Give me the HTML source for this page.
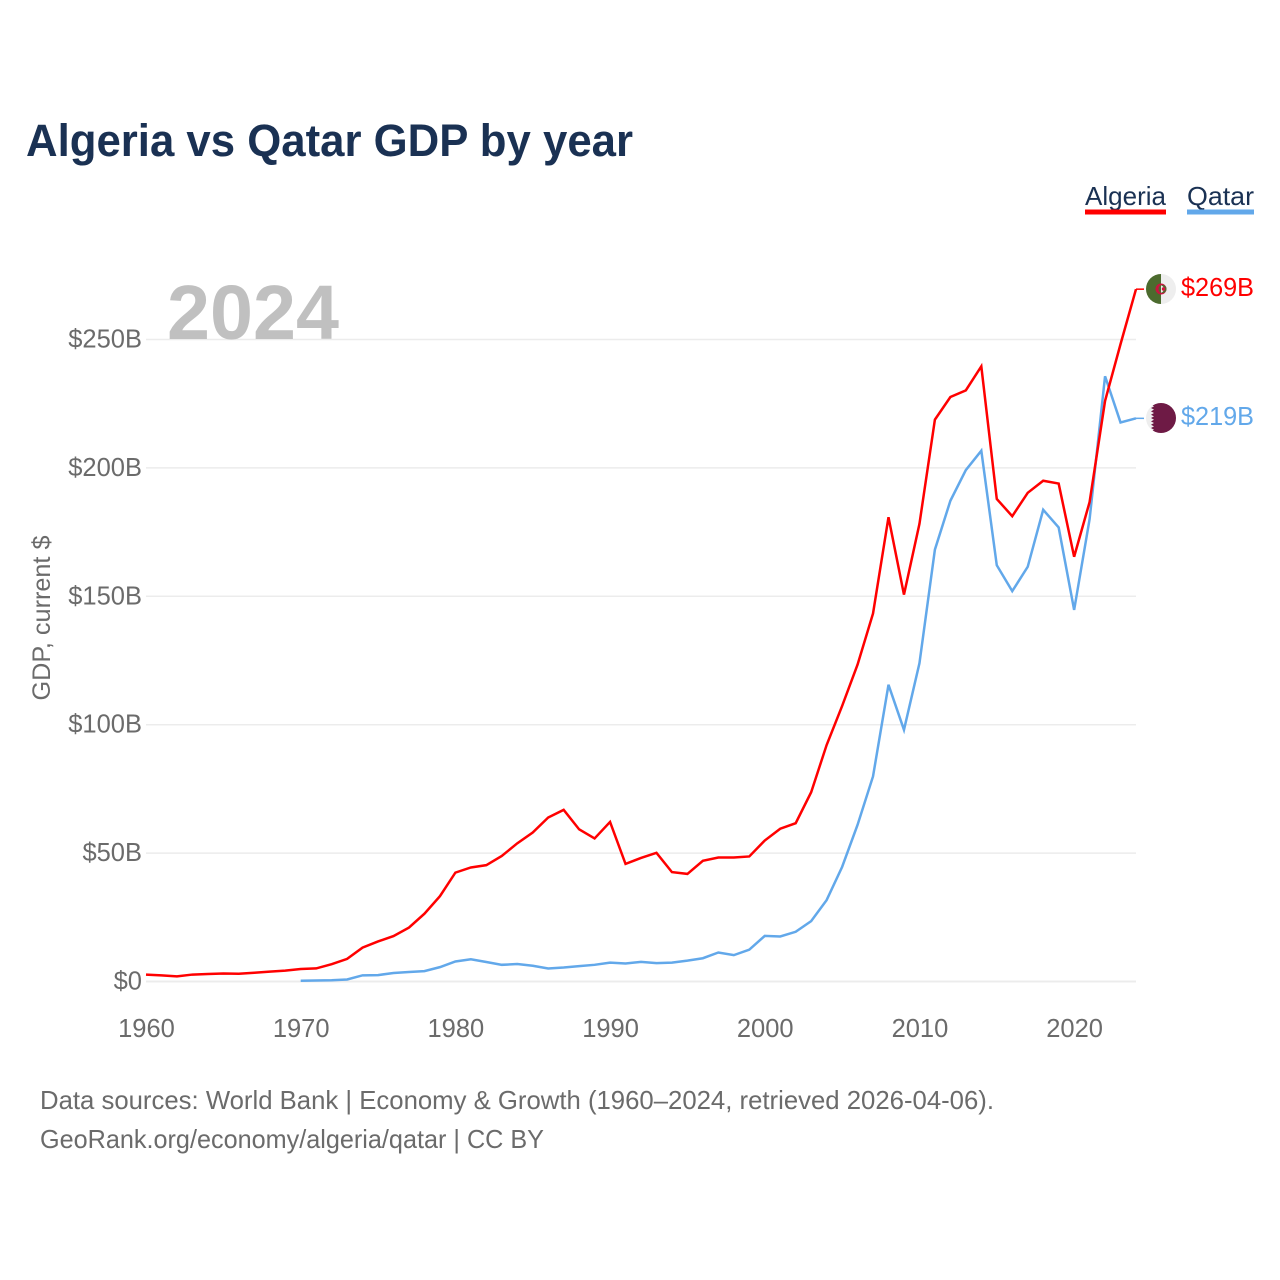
<!DOCTYPE html>
<html lang="en">
<head>
<meta charset="utf-8">
<title>Algeria vs Qatar GDP by year</title>
<style>
html,body{margin:0;padding:0;background:#fff;}
svg{display:block;}
text{font-family:"Liberation Sans",sans-serif;}
</style>
</head>
<body>
<svg id="chart" width="1280" height="1280" viewBox="0 0 1280 1280" xmlns="http://www.w3.org/2000/svg">
  <defs>
    <clipPath id="flag-clip-a"><circle cx="1161" cy="289" r="15"/></clipPath>
    <clipPath id="flag-clip-q"><circle cx="1161" cy="418" r="15"/></clipPath>
  </defs>
  <rect width="1280" height="1280" fill="#fff"/>
  <text x="26" y="156" font-size="45" font-weight="700" fill="#1a3153" textLength="607" lengthAdjust="spacingAndGlyphs">Algeria vs Qatar GDP by year</text>

  <text x="1085" y="205" font-size="26" fill="#1a3153" textLength="81" lengthAdjust="spacingAndGlyphs">Algeria</text>
  <rect x="1085" y="209.500" width="81" height="5" fill="#ff0000"/>
  <text x="1187" y="205" font-size="26" fill="#1a3153" textLength="67" lengthAdjust="spacingAndGlyphs">Qatar</text>
  <rect x="1187" y="209.500" width="67" height="5" fill="#62a8ea"/>

  <g id="grid"></g>
  <text x="167" y="339" font-size="77" font-weight="700" fill="#c0c0c0" textLength="172" lengthAdjust="spacingAndGlyphs">2024</text>
  <g id="yticks"></g>
  <g id="xticks"></g>
  <text transform="translate(50,618) rotate(-90)" text-anchor="middle" font-size="25" fill="#6b6b6b" textLength="165" lengthAdjust="spacingAndGlyphs">GDP, current $</text>

  <g id="series"></g>

  <g clip-path="url(#flag-clip-a)">
    <rect x="1146" y="274" width="15" height="30" fill="#4c6b2e"/>
    <rect x="1161" y="274" width="15" height="30" fill="#eeeeee"/>
    <circle cx="1161" cy="289" r="5.500" fill="#c8153f"/>
    <circle cx="1162.500" cy="289" r="4" fill="#4c6b2e"/>
    <path d="M1161 285.200a4 4 0 0 1 0 7.600z" fill="#eeeeee"/>
    <circle cx="1163.500" cy="289" r="1.700" fill="#d8103f"/>
  </g>
  <g clip-path="url(#flag-clip-q)">
    <rect x="1146" y="403" width="30" height="30" fill="#eeeeee"/>
    <path d="M1176 403H1154l-3 1.670 3 1.670-3 1.670 3 1.670-3 1.670 3 1.670-3 1.670 3 1.670-3 1.670 3 1.670-3 1.670 3 1.670-3 1.670 3 1.670-3 1.670 3 1.670-3 1.670 3 1.670H1176z" fill="#6e1a45"/>
  </g>

  <text x="1181" y="296" font-size="26" fill="#ff0000" textLength="73" lengthAdjust="spacingAndGlyphs">$269B</text>
  <text x="1181" y="425" font-size="26" fill="#62a8ea" textLength="73" lengthAdjust="spacingAndGlyphs">$219B</text>

  <text x="40" y="1109" font-size="26" fill="#6b6b6b" textLength="954" lengthAdjust="spacingAndGlyphs">Data sources: World Bank | Economy &amp; Growth (1960–2024, retrieved 2026-04-06).</text>
  <text x="40" y="1148" font-size="26" fill="#6b6b6b" textLength="504" lengthAdjust="spacingAndGlyphs">GeoRank.org/economy/algeria/qatar | CC BY</text>
</svg>
<script>
const algeriaStartYear = 1960;
const algeriaValues = [2.7,2.4,2.0,2.7,2.9,3.1,3.0,3.4,3.85,4.25,4.85,5.1,6.75,8.8,13.2,15.6,17.7,21.0,26.4,33.2,42.4,44.4,45.3,48.9,53.8,58.0,63.85,66.85,59.25,55.7,62.15,45.8,48.1,50.1,42.6,41.9,47.0,48.3,48.3,48.7,54.9,59.5,61.65,73.7,92.1,107.25,123.4,143.3,180.8,150.65,178.2,218.8,227.6,230.2,239.55,187.9,181.2,190.3,195,193.9,165.4,186.7,226.1,248.2,269.6];
const qatarStartYear = 1970;
const qatarValues = [0.3,0.39,0.5,0.8,2.4,2.5,3.3,3.7,4.05,5.6,7.8,8.66,7.6,6.5,6.8,6.15,5.05,5.45,6.0,6.5,7.36,7.0,7.65,7.16,7.37,8.14,9.06,11.3,10.26,12.39,17.76,17.54,19.36,23.5,31.7,44.6,61,79.9,115.55,98,123.9,168.2,187.2,199.15,206.7,162.1,152,161.5,183.7,176.8,144.7,180,235.7,217.7,219.3];
const yTicks = [0,50,100,150,200,250];
const yTickLabels = ["$0","$50B","$100B","$150B","$200B","$250B"];
const xTicks = [1960,1970,1980,1990,2000,2010,2020];

function xScale(year){ return 146 + (year - 1960) * (1136 - 146) / 64; }
function yScale(v){ return 981.5 - v * (981.5 - 339.5) / 250; }

const NS = "http://www.w3.org/2000/svg";
function make(parent, tag, attrs){
  const el = document.createElementNS(NS, tag);
  for (const k in attrs) el.setAttribute(k, attrs[k]);
  parent.appendChild(el);
  return el;
}

const grid = document.getElementById('grid');
const yG = document.getElementById('yticks');
yTicks.forEach(function(v, i){
  const line = make(grid, 'line', {x1:146, x2:1136, y1:yScale(v), y2:yScale(v), stroke:'#ececec', 'stroke-width': v === 0 ? 2 : 1.5});
  
  
  const label = make(yG, 'text', {x:142, y:yScale(v) + 8, 'text-anchor':'end', 'font-size':25.5, fill:'#6b6b6b'});
  label.textContent = yTickLabels[i];
  
  
});

const xG = document.getElementById('xticks');
xTicks.forEach(function(y){
  const label = make(xG, 'text', {x:xScale(y) + 0.5, y:1037, 'text-anchor':'middle', 'font-size':25.5, fill:'#6b6b6b'});
  label.textContent = String(y);
  
  
});

function drawSeries(values, startYear, color, name){
  const g = document.getElementById('series');
  const pts = values.map(function(v, i){ return xScale(startYear + i).toFixed(2) + ',' + yScale(v).toFixed(2); });
  const endX = xScale(startYear + values.length - 1);
  const endY = yScale(values[values.length - 1]);
  const connector = make(g, 'line', {x1:endX, x2:endX + 8, y1:endY, y2:endY, stroke:color, 'stroke-width':1.5});
  
  
  const line = make(g, 'polyline', {points:pts.join(' '), fill:'none', stroke:color, 'stroke-width':2.5, 'stroke-linejoin':'miter'});
  
  
}
drawSeries(qatarValues, qatarStartYear, '#62a8ea', 'line-qatar');
drawSeries(algeriaValues, algeriaStartYear, '#ff0000', 'line-algeria');
</script>
</body>
</html>
